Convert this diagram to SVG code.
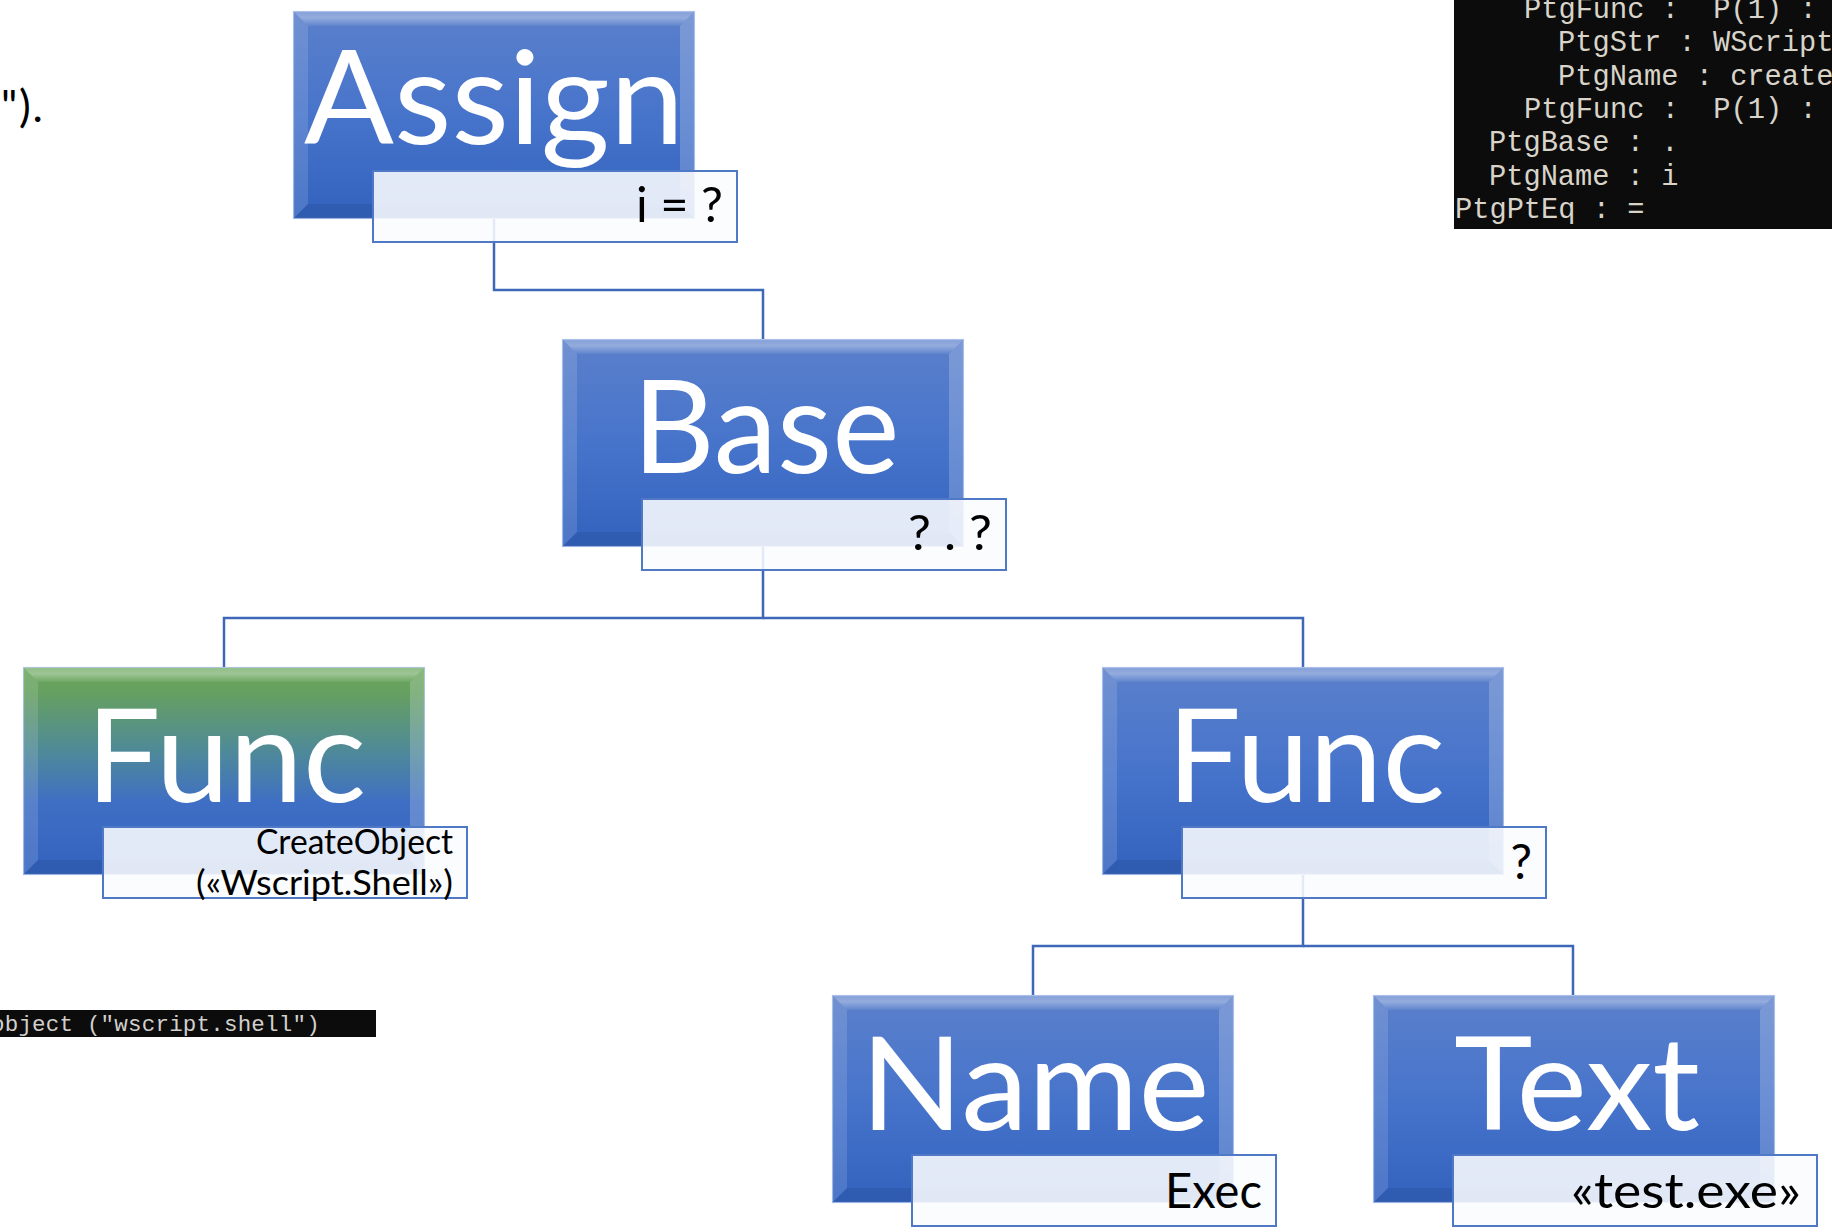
<svg xmlns="http://www.w3.org/2000/svg" xmlns:xlink="http://www.w3.org/1999/xlink" width="1832" height="1232" viewBox="0 0 1832 1232">
  <style>
    .big { font-family: Lato, "Open Sans", "Liberation Sans", sans-serif; font-size: 130px; fill: #ffffff; text-anchor: middle; }
    .lbl { font-family: Lato, "Open Sans", "Liberation Sans", sans-serif; font-size: 48px; fill: #000000; text-anchor: end; }
    .lbl2 { font-family: Lato, "Open Sans", "Liberation Sans", sans-serif; font-size: 34px; fill: #000000; text-anchor: end; }
    .lblbox { fill: #fbfcfe; fill-opacity: 0.88; stroke: #4f79c6; stroke-width: 2; }
    .conn { fill: none; stroke: #3d67b7; stroke-width: 2.5; }
    .con { font-family: "Liberation Mono", "DejaVu Sans Mono", monospace; font-size: 28.7px; fill: #d8d4ca; white-space: pre; }
    .con2 { font-family: "Liberation Mono", "DejaVu Sans Mono", monospace; font-size: 22.5px; letter-spacing: 0.2px; fill: #d2d0cc; white-space: pre; }
    .plain { font-family: Lato, "Open Sans", "Liberation Sans", sans-serif; font-size: 44px; fill: #000000; }
  </style>
  <defs>
    <linearGradient id="gBlue" x1="0" y1="0" x2="0" y2="1">
      <stop offset="0" stop-color="#5b80cb"/>
      <stop offset="0.5" stop-color="#4774cb"/>
      <stop offset="1" stop-color="#3262be"/>
    </linearGradient>
    <linearGradient id="gGreen" x1="0" y1="0" x2="0" y2="1">
      <stop offset="0" stop-color="#6aa85a"/>
      <stop offset="0.12" stop-color="#66a060"/>
      <stop offset="0.4" stop-color="#4f8a98"/>
      <stop offset="0.65" stop-color="#3f6fc4"/>
      <stop offset="1" stop-color="#3262be"/>
    </linearGradient>
    <linearGradient id="gTop" x1="0" y1="0" x2="0" y2="1">
      <stop offset="0" stop-color="#ffffff" stop-opacity="0.25"/>
      <stop offset="0.45" stop-color="#ffffff" stop-opacity="0.35"/>
      <stop offset="1" stop-color="#ffffff" stop-opacity="0.05"/>
    </linearGradient>
    <g id="bevel">
      <polygon points="0,0 402,0 387,15 15,15" fill="url(#gTop)"/>
      <polygon points="0,0 15,15 15,193 0,208" fill="#ffffff" fill-opacity="0.13"/>
      <polygon points="402,0 402,208 387,193 387,15" fill="#ffffff" fill-opacity="0.2"/>
      <polygon points="0,208 15,193 387,193 402,208" fill="#000000" fill-opacity="0.08"/>
      <rect x="0.5" y="0.5" width="401" height="207" fill="none" stroke="#b4c8ee" stroke-width="1.2" stroke-opacity="0.8"/>
    </g>
    <g id="boxBlue">
      <rect width="402" height="208" fill="url(#gBlue)"/>
      <use xlink:href="#bevel"/>
    </g>
    <g id="boxGreen">
      <rect width="402" height="208" fill="url(#gGreen)"/>
      <use xlink:href="#bevel"/>
    </g>
  </defs>

  <rect width="1832" height="1232" fill="#ffffff"/>

  <g id="screenshot-top">
    <rect x="1454" y="0" width="378" height="229" fill="#0c0c0c"/>
    <text class="con" x="1524" y="18">PtgFunc :  P(1) :</text>
    <text class="con" x="1558" y="51">PtgStr : WScript.</text>
    <text class="con" x="1558" y="85">PtgName : createo</text>
    <text class="con" x="1524" y="118">PtgFunc :  P(1) :</text>
    <text class="con" x="1489" y="151">PtgBase : .</text>
    <text class="con" x="1489" y="185">PtgName : i</text>
    <text class="con" x="1455" y="218">PtgPtEq : =</text>
  </g>

  <g id="screenshot-bottom">
    <rect x="0" y="1010" width="376" height="27" fill="#0c0c0c"/>
    <text class="con2" x="-9" y="1031">object (&quot;wscript.shell&quot;)</text>
  </g>

  <g id="fragment-text">
    <text class="plain" x="1" y="122" textLength="42" lengthAdjust="spacing">&quot;).</text>
  </g>

  <g id="connectors">
    <path class="conn" d="M494 218 V290 H763 V339"/>
    <path class="conn" d="M763 547 V618 H224 V667"/>
    <path class="conn" d="M763 618 H1303 V667"/>
    <path class="conn" d="M1303 875 V946 H1033 V995"/>
    <path class="conn" d="M1303 946 H1573 V995"/>
  </g>

  <g id="node-assign">
    <use xlink:href="#boxBlue" x="293" y="11"/>
    <text class="big" x="494" y="144" textLength="380" lengthAdjust="spacingAndGlyphs">Assign</text>
    <rect class="lblbox" x="373" y="171" width="364" height="71"/>
    <text class="lbl" x="723" y="222" textLength="87" lengthAdjust="spacingAndGlyphs">i = ?</text>
  </g>

  <g id="node-base">
    <use xlink:href="#boxBlue" x="562" y="339"/>
    <text class="big" x="766" y="473" textLength="267" lengthAdjust="spacingAndGlyphs">Base</text>
    <rect class="lblbox" x="642" y="499" width="364" height="71"/>
    <text class="lbl" x="992" y="550" textLength="84" lengthAdjust="spacingAndGlyphs">? . ?</text>
  </g>

  <g id="node-func-left">
    <use xlink:href="#boxGreen" x="23" y="667"/>
    <text class="big" x="226" y="802" textLength="280" lengthAdjust="spacingAndGlyphs">Func</text>
    <rect class="lblbox" x="103" y="827" width="364" height="71"/>
    <text class="lbl2" x="453" y="854" textLength="197" lengthAdjust="spacingAndGlyphs">CreateObject</text>
    <text class="lbl2" x="453" y="895" textLength="257" lengthAdjust="spacingAndGlyphs">(«Wscript.Shell»)</text>
  </g>

  <g id="node-func-right">
    <use xlink:href="#boxBlue" x="1102" y="667"/>
    <text class="big" x="1306" y="802" textLength="278" lengthAdjust="spacingAndGlyphs">Func</text>
    <rect class="lblbox" x="1182" y="827" width="364" height="71"/>
    <text class="lbl" x="1532" y="879">?</text>
  </g>

  <g id="node-name">
    <use xlink:href="#boxBlue" x="832" y="995"/>
    <text class="big" x="1035" y="1130" textLength="349" lengthAdjust="spacingAndGlyphs">Name</text>
    <rect class="lblbox" x="912" y="1155" width="364" height="71"/>
    <text class="lbl" x="1262" y="1208" textLength="97" lengthAdjust="spacingAndGlyphs">Exec</text>
  </g>

  <g id="node-text">
    <use xlink:href="#boxBlue" x="1373" y="995"/>
    <text class="big" x="1577" y="1130" textLength="246" lengthAdjust="spacingAndGlyphs">Text</text>
    <rect class="lblbox" x="1453" y="1155" width="364" height="71"/>
    <text class="lbl" x="1801" y="1208" textLength="230" lengthAdjust="spacingAndGlyphs">«test.exe»</text>
  </g>
</svg>
